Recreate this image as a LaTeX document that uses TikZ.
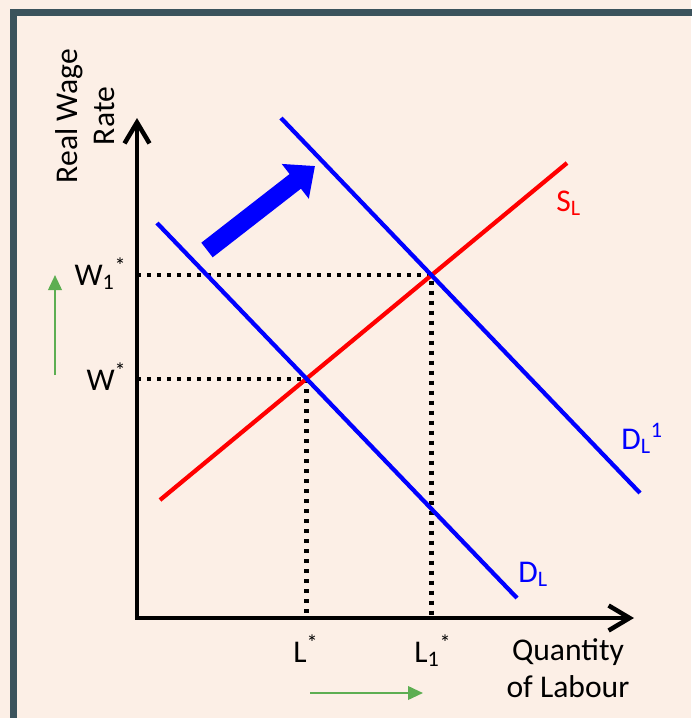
\documentclass[tikz,border=0pt]{standalone}
\usepackage{fontspec}
\setmainfont{Carlito}
\usetikzlibrary{arrows.meta, intersections}
\definecolor{paper}{HTML}{FCEFE6}
\definecolor{framecol}{HTML}{3B535C}
\definecolor{hint}{HTML}{5DAE52}
\tikzset{
  axisline/.style={line width=0.09cm, line join=miter, {Straight Barb[length=0.42cm,width=0.5cm]}-{Straight Barb[length=0.42cm,width=0.5cm]}},
  supply/.style={red, line width=0.085cm},
  demand/.style={blue, line width=0.085cm},
  guide/.style={line width=0.085cm, dash pattern=on 0.085cm off 0.115cm},
  hintarrow/.style={hint, line width=0.045cm, -{Triangle[width=0.27cm,length=0.3cm]}},
  shiftarrow/.style={blue, line width=0.37cm, -{Triangle[width=0.85cm,length=0.5cm]}}
}

\begin{document}
\begin{tikzpicture}[x=0.02cm, y=-0.02cm, every node/.style={font=\fontsize{18}{21}\selectfont, inner sep=0pt}]
\fill[paper] (0,0) rectangle (691,718);
\useasboundingbox (0,0) rectangle (691,718);
\draw[framecol, line width=0.15cm] (13.5,12.3) rectangle (712,740);

% curves
\coordinate (sl0) at (160,500);
\coordinate (sl1) at (567,163);
\coordinate (dl0) at (157,223);
\coordinate (dl1) at (517,598);
\coordinate (dn0) at (281,118);
\coordinate (dn1) at (640,493);
\path[name path=sl] (sl0) -- (sl1);
\path[name path=dl] (dl0) -- (dl1);
\path[name path=dn] (dn0) -- (dn1);
\path[name intersections={of=sl and dl, by=eq0}];
\path[name intersections={of=sl and dn, by=eq1}];

% axes
\coordinate (O) at (137,618);
\coordinate (ytop) at (137,118);
\coordinate (xend) at (634,618);

% equilibrium guides
\draw[guide] (eq0 -| O) -- (eq0) -- (eq0 |- O);
\draw[guide] (eq1 -| O) -- (eq1) -- (eq1 |- O);

\draw[axisline] (ytop) -- (O) -- (xend);
\draw[supply] (sl0) -- (sl1);
\draw[demand] (dl0) -- (dl1);
\draw[demand] (dn0) -- (dn1);

% shift of demand
\coordinate (shift0) at (207,250);
\coordinate (shift1) at (315,166);
\draw[shiftarrow] (shift0) -- (shift1);

% labels
\node[rotate=90, align=center] (ylab) at (85,116) {Real Wage\\Rate};
\node[align=center] (xlab) at (568,668) {Quantity\\of Labour};
\node[anchor=base east] (w1) at (127,285) {W\textsubscript{1}\textsuperscript{*}};
\node[anchor=base east] (w0) at (127,390) {W\textsuperscript{*}};
\node[anchor=base] (l0) at (306,662) {L\textsuperscript{*}};
\node[anchor=base] (l1) at (433,662) {L\textsubscript{1}\textsuperscript{*}};
\node[red, anchor=base west] (sllab) at (556,211) {S\textsubscript{L}};
\node[blue, anchor=base west] (dllab) at (518,582) {D\textsubscript{L}};
\node[blue, anchor=base west] (dnlab) at (621,449) {D\textsubscript{L}\textsuperscript{1}};

% direction hints
\coordinate (wup0) at (55,375);
\coordinate (wup1) at (55,275);
\draw[hintarrow] (wup0) -- (wup1);
\coordinate (lr0) at (310,693);
\coordinate (lr1) at (423,693);
\draw[hintarrow] (lr0) -- (lr1);
\end{tikzpicture}
\end{document}
